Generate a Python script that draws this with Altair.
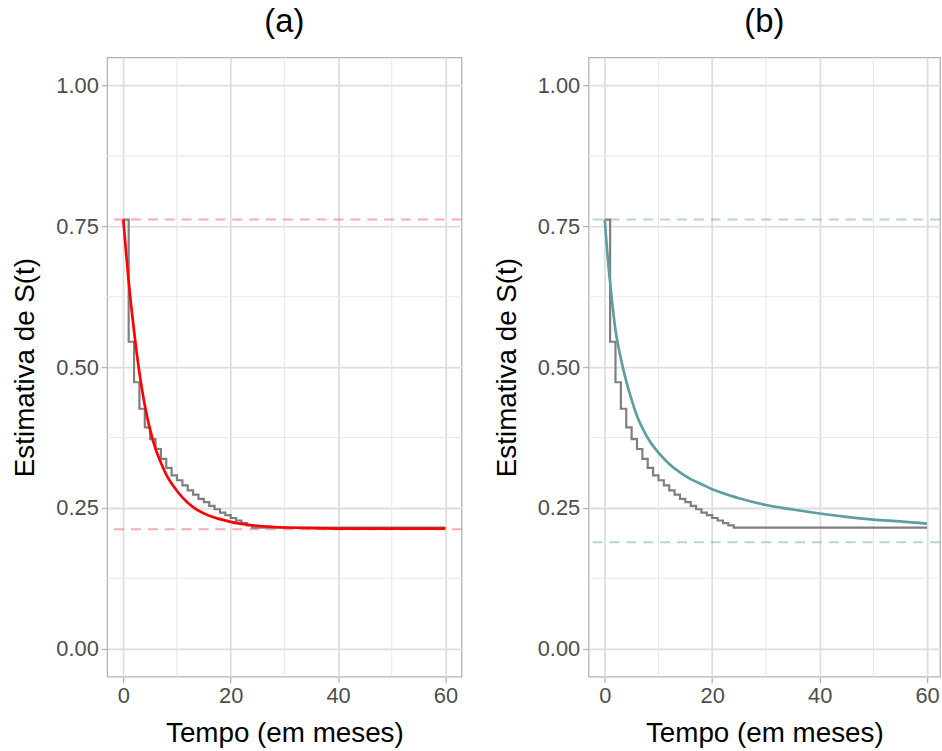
import altair as alt
import pandas as pd

# Kaplan-Meier estimate (step function), shared by both panels
km_time = [0, 1, 2, 3, 4, 5, 6, 7, 8, 9, 10, 11, 12, 13, 14, 15, 16, 17, 18,
           19, 20, 21, 22, 23, 24, 60]
km_surv = [0.762, 0.545, 0.473, 0.426, 0.393, 0.372, 0.3545, 0.337, 0.321,
           0.3075, 0.299, 0.290, 0.281, 0.2735, 0.266, 0.260, 0.2535, 0.2475,
           0.2415, 0.237, 0.232, 0.2275, 0.223, 0.219, 0.215, 0.215]

# Fitted survival curve, model (a)
fit_a_time = [0, 0.5, 1, 2, 3, 4, 5, 6, 7, 8, 10, 12, 14, 16, 18, 20, 24, 28,
              35, 45, 60]
fit_a_surv = [0.762, 0.705, 0.652, 0.564, 0.490, 0.432, 0.388, 0.355, 0.330,
              0.309, 0.280, 0.259, 0.245, 0.236, 0.230, 0.225, 0.219, 0.216,
              0.214, 0.213, 0.213]

# Fitted survival curve, model (b)
fit_b_time = [0, 0.5, 1, 2, 3, 4, 5, 6, 7, 8, 10, 12, 14, 16, 18, 20, 25, 30,
              35, 40, 45, 50, 55, 60]
fit_b_surv = [0.762, 0.700, 0.650, 0.566, 0.515, 0.475, 0.442, 0.413, 0.392,
              0.374, 0.348, 0.328, 0.313, 0.301, 0.292, 0.283, 0.267, 0.255,
              0.247, 0.240, 0.234, 0.229, 0.226, 0.222]

# Horizontal reference levels (upper / lower) for each model
ref_a = [0.762, 0.212]
ref_b = [0.762, 0.189]

x_ticks = [0, 20, 40, 60]
x_minor = [10, 30, 50]
y_ticks = [0.0, 0.25, 0.5, 0.75, 1.0]
y_minor = [0.125, 0.375, 0.625, 0.875]

FONT = "Liberation Sans"
H = 624
y_scale = alt.Scale(domain=[-0.05, 1.05], nice=False, zero=False)

axis_style = dict(
    labelFont=FONT, labelFontSize=22, labelColor="#4D4D4D", labelPadding=3,
    titleFont=FONT, titleFontSize=28, titleFontWeight="normal", titleColor="black",
    tickColor="#B3B3B3", tickSize=6, tickWidth=1.3,
    domain=False, grid=True, gridColor="#DEDEDE", gridWidth=1.8,
)
x_axis = alt.Axis(values=x_ticks, title="Tempo (em meses)", format="d",
                  titlePadding=13, **axis_style)
y_axis = alt.Axis(values=y_ticks, title="Estimativa de S(t)", format=".2f",
                  titlePadding=16, **axis_style)


def panel(label, fit_time, fit_surv, refs, color, ref_opacity, width, x_max):
    x_scale = alt.Scale(domain=[-3, x_max], nice=False, zero=False)
    km_df = pd.DataFrame({"t": km_time, "s": km_surv})
    fit_df = pd.DataFrame({"t": fit_time, "s": fit_surv})
    ref_df = pd.DataFrame({"s": refs})
    minor_x_df = pd.DataFrame({"t": x_minor})
    minor_y_df = pd.DataFrame({"s": y_minor})

    grid_x = alt.Chart(minor_x_df).mark_rule(color="#E8E8E8", strokeWidth=1.1).encode(
        x=alt.X("t:Q", scale=x_scale, axis=x_axis)
    )
    grid_y = alt.Chart(minor_y_df).mark_rule(color="#E8E8E8", strokeWidth=1.1).encode(
        y=alt.Y("s:Q", scale=y_scale, axis=y_axis)
    )
    refs_layer = alt.Chart(ref_df).mark_rule(
        color=color, opacity=ref_opacity, strokeWidth=2, strokeDash=[10, 7]
    ).encode(y=alt.Y("s:Q", scale=y_scale, axis=y_axis))
    km_layer = alt.Chart(km_df).mark_line(
        color="#7F7F7F", strokeWidth=2.2, interpolate="step-after"
    ).encode(
        x=alt.X("t:Q", scale=x_scale, axis=x_axis),
        y=alt.Y("s:Q", scale=y_scale, axis=y_axis),
    )
    fit_layer = alt.Chart(fit_df).mark_line(
        color=color, strokeWidth=2.7, interpolate="monotone"
    ).encode(
        x=alt.X("t:Q", scale=x_scale, axis=x_axis),
        y=alt.Y("s:Q", scale=y_scale, axis=y_axis),
    )
    return alt.layer(grid_x, grid_y, refs_layer, km_layer, fit_layer).properties(
        width=width,
        height=H,
        title=alt.TitleParams(label, fontSize=33, font=FONT, fontWeight="normal",
                              color="black", anchor="middle", offset=18),
    )


chart = alt.hconcat(
    panel("(a)", fit_a_time, fit_a_surv, ref_a, "#FF0000", 0.33, 357, 63),
    panel("(b)", fit_b_time, fit_b_surv, ref_b, "#5F9EA0", 0.45, 354, 62.4),
    spacing=29,
).properties(
    padding={"left": 11, "top": 2, "right": 0, "bottom": 0},
    background="white",
).configure_view(
    stroke="#B3B3B3", strokeWidth=1.3
)

chart.save("out.html", embed_options={"renderer": "svg", "actions": False})
